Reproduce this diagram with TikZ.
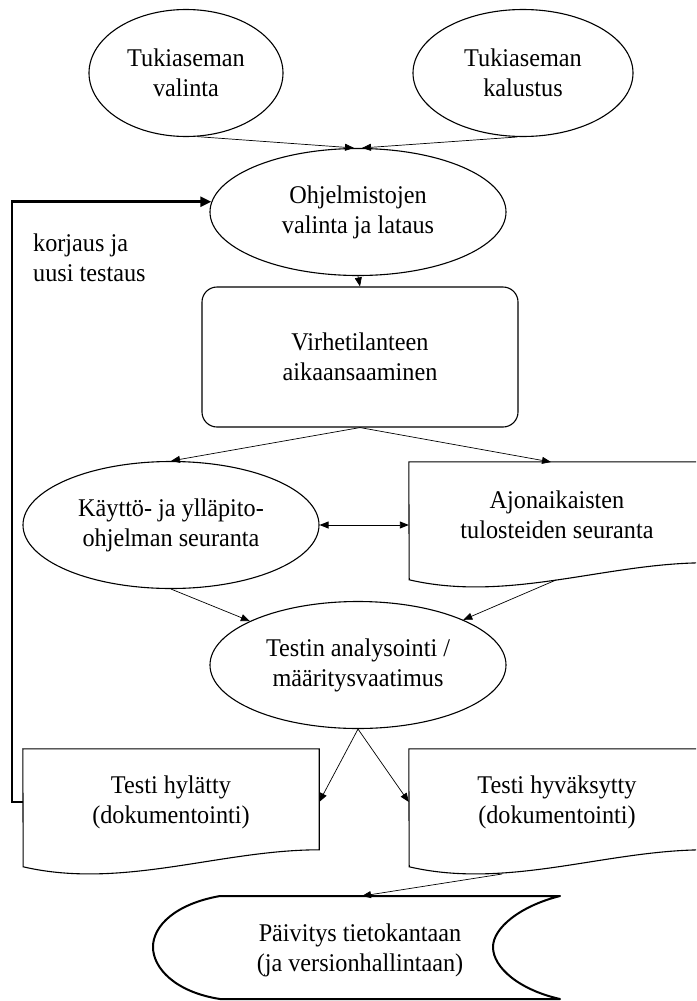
\documentclass[tikz,border=0pt]{standalone}
\usepackage{fontspec}
\setmainfont{Liberation Serif}[FakeStretch=0.95]
\usetikzlibrary{arrows.meta,shapes.geometric}
\begin{document}
\begin{tikzpicture}[x=1pt,y=-1pt,
  every node/.style={font=\fontsize{25.5}{30}\selectfont, align=center, inner sep=0pt},
  ell/.style={ellipse, draw, line width=1.1pt, minimum height=127pt},
  docnode/.style={minimum width=296pt, minimum height=106pt},
  docline/.style={draw, line width=1.1pt},
  arr/.style={line width=0.7pt, -{Triangle[length=9pt,width=7pt]}},
  darr/.style={line width=0.9pt, {Triangle[length=9pt,width=7pt]}-{Triangle[length=9pt,width=7pt]}},
  fb/.style={line width=2.6pt, -{Triangle[length=11pt,width=10pt]}}]
\useasboundingbox (0,0) rectangle (696,1001);
\clip (0,0) rectangle (696,1001);

% nodes
\node[ell, minimum width=194pt] (e1) at (186,73) {Tukiaseman\\valinta};
\node[ell, minimum width=220pt] (e2) at (523,73) {Tukiaseman\\kalustus};
\node[ell, minimum width=296pt] (e3) at (358,212) {Ohjelmistojen\\valinta ja lataus};
\node[draw, line width=1.1pt, rounded corners=15pt, minimum width=316pt, minimum height=140pt] (vr) at (360,357) {Virhetilanteen\\aikaansaaminen};
\node[ell, minimum width=296pt] (e4) at (171,525) {Käyttö- ja ylläpito-\\ohjelman seuranta};
\node[docnode] (ajo) at (557,515) {Ajonaikaisten\\tulosteiden seuranta};
\node[ell, minimum width=296pt] (e5) at (358,665) {Testin analysointi /\\määritysvaatimus};
\node[docnode] (hyl) at (171,802) {Testi hylätty\\(dokumentointi)};
\node[docnode] (hyv) at (557,802) {Testi hyväksytty\\(dokumentointi)};
\node (pv) at (360,950) {Päivitys tietokantaan\\(ja versionhallintaan)};
\node[align=left, anchor=west] (lbl) at (33,258) {korjaus ja\\uusi testaus};

% document outlines
\foreach \n in {ajo,hyl,hyv}{
  \draw[docline] (\n.north west) -- (\n.north east) -- ++(0,101)
    .. controls +(-99,0) and +(99,23) .. ++(-296,17) -- cycle;
}

% stored data shape
\draw[line width=2pt, line join=round]
  (220,896) -- (560,896)
  .. controls (520,906) and (493,928) .. (493,947)
  .. controls (493,968) and (520,990) .. (560,999)
  -- (220,999)
  .. controls (175,992) and (153,968) .. (153,947)
  .. controls (153,926) and (175,904) .. (220,896) -- cycle;

% helper coordinates on wavy bottoms / tops
\coordinate (ajotop) at (551,462);
\coordinate (ajob) at (556,580);
\coordinate (hyvb) at (502,874);
\coordinate (pvtop) at (362,896);

% connectors
\draw[arr] (e1.-80) -- ([xshift=-4pt]e3.north);
\draw[arr] (e2.-95) -- ([xshift=4pt]e3.north);
\draw[arr] (e3.south) -- (vr.north);
\draw[arr] (vr.south) -- (e4.north);
\draw[arr] (vr.south) -- (ajotop);
\draw[darr] (e4.east) -- (e4.east -| ajo.west);
\draw[arr] (e4.south) -- (e5);
\draw[arr] (ajob) -- (e5);
\draw[arr] (e5.south) -- (hyl.east);
\draw[arr] (e5.south) -- (hyv.west);
\draw[arr] (hyvb) -- (pvtop);
\draw[fb] (hyl.west) -- ++(-11,0) |- (e3.176);
\end{tikzpicture}
\end{document}
